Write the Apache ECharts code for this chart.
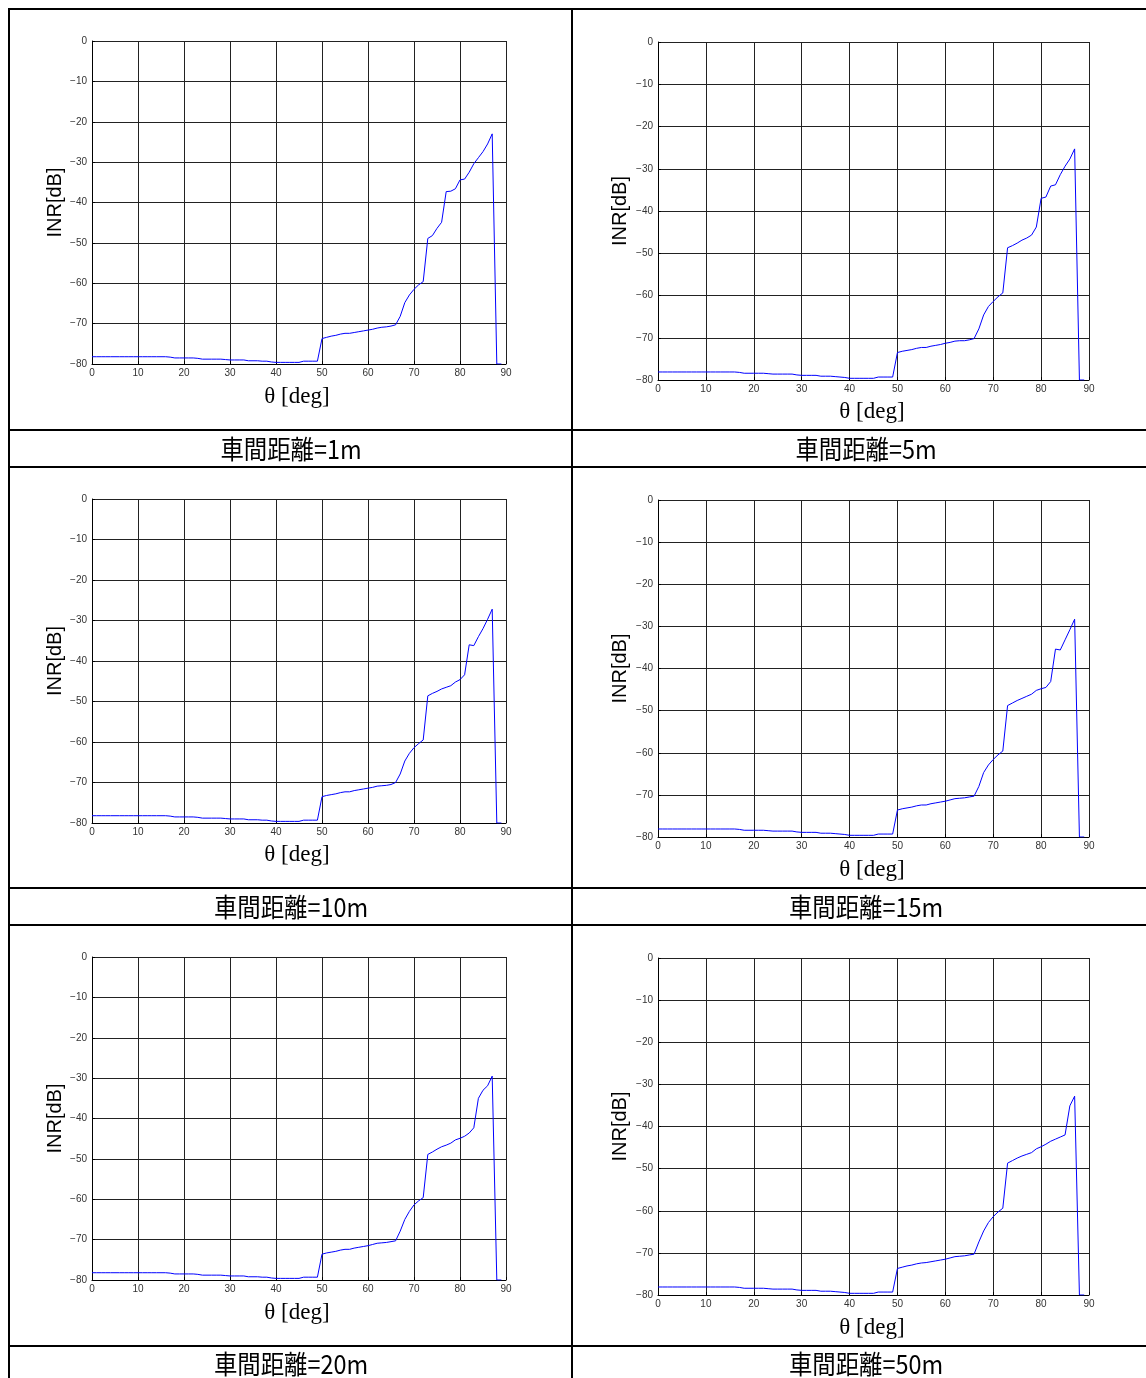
<!DOCTYPE html>
<html><head><meta charset="utf-8">
<script src="https://cdn.jsdelivr.net/npm/echarts@6/dist/echarts.min.js"></script>
<style>html,body{margin:0;padding:0;background:#fff}#c{width:1146px;height:1378px}</style>
</head><body><div id="c"></div>
<script>
// ---- data ----
const theta = [0,1,2,3,4,5,6,7,8,9,10,11,12,13,14,15,16,17,18,19,20,21,22,23,24,25,26,27,28,29,
30,31,32,33,34,35,36,37,38,39,40,41,42,43,44,45,46,47,48,49,50,51,52,53,54,55,56,57,58,59,
60,61,62,63,64,65,66,67,68,69,70,71,72,73,74,75,76,77,78,79,80,81,82,83,84,85,86,87,88,89];
const xTicks = [0,10,20,30,40,50,60,70,80,90];
const yTicks = [0,-10,-20,-30,-40,-50,-60,-70,-80];
const captions = ['車間距離=1m','車間距離=5m','車間距離=10m','車間距離=15m','車間距離=20m','車間距離=50m'];

const inr1m = [
-78.2,-78.2,-78.2,-78.2,-78.2,-78.2,-78.2,-78.2,-78.2,-78.2,
-78.2,-78.2,-78.2,-78.2,-78.2,-78.2,-78.2,-78.3,-78.5,-78.5,
-78.5,-78.5,-78.5,-78.6,-78.8,-78.8,-78.8,-78.8,-78.8,-78.9,
-79.0,-79.0,-79.0,-79.0,-79.2,-79.2,-79.2,-79.3,-79.3,-79.5,
-79.6,-79.6,-79.6,-79.6,-79.6,-79.6,-79.3,-79.3,-79.3,-79.3,
-73.7,-73.4,-73.1,-72.9,-72.6,-72.4,-72.4,-72.2,-72.0,-71.8,
-71.6,-71.4,-71.1,-70.9,-70.8,-70.6,-70.3,-68.2,-64.8,-62.9,
-61.5,-60.4,-59.6,-48.9,-48.2,-46.4,-44.9,-37.3,-37.2,-36.6,
-34.4,-34.2,-32.5,-30.4,-28.9,-27.4,-25.5,-23.0,-80,-80];
const inr5m = [
-78.1,-78.1,-78.1,-78.1,-78.1,-78.1,-78.1,-78.1,-78.1,-78.1,
-78.1,-78.1,-78.1,-78.1,-78.1,-78.1,-78.1,-78.2,-78.4,-78.4,
-78.4,-78.4,-78.4,-78.5,-78.6,-78.6,-78.6,-78.6,-78.6,-78.8,
-78.9,-78.9,-78.9,-78.9,-79.1,-79.1,-79.1,-79.2,-79.3,-79.4,
-79.6,-79.6,-79.6,-79.6,-79.6,-79.6,-79.3,-79.3,-79.3,-79.3,
-73.5,-73.2,-73.0,-72.8,-72.5,-72.3,-72.3,-72.0,-71.8,-71.6,
-71.3,-71.1,-70.8,-70.7,-70.7,-70.5,-70.2,-67.9,-64.6,-62.6,
-61.4,-60.3,-59.4,-48.7,-48.2,-47.6,-46.9,-46.4,-45.7,-43.8,
-37.0,-36.7,-34.1,-33.8,-31.4,-29.4,-27.7,-25.3,-80,-80];
const inr10m = [
-78.2,-78.2,-78.2,-78.2,-78.2,-78.2,-78.2,-78.2,-78.2,-78.2,
-78.2,-78.2,-78.2,-78.2,-78.2,-78.2,-78.2,-78.3,-78.5,-78.5,
-78.5,-78.5,-78.5,-78.6,-78.8,-78.8,-78.8,-78.8,-78.8,-78.9,
-79.0,-79.0,-79.0,-79.0,-79.2,-79.2,-79.2,-79.3,-79.3,-79.5,
-79.6,-79.6,-79.6,-79.6,-79.6,-79.6,-79.3,-79.3,-79.3,-79.3,
-73.5,-73.2,-73.0,-72.8,-72.5,-72.3,-72.3,-72.0,-71.8,-71.6,
-71.4,-71.2,-70.9,-70.8,-70.7,-70.5,-70.0,-67.9,-64.7,-62.8,
-61.4,-60.4,-59.5,-48.6,-48.0,-47.5,-46.9,-46.5,-46.1,-45.2,
-44.6,-43.4,-36.0,-36.2,-34.0,-32.0,-29.7,-27.2,-80,-80];
const inr15m = [
-78.1,-78.1,-78.1,-78.1,-78.1,-78.1,-78.1,-78.1,-78.1,-78.1,
-78.1,-78.1,-78.1,-78.1,-78.1,-78.1,-78.1,-78.2,-78.4,-78.4,
-78.4,-78.4,-78.4,-78.5,-78.6,-78.6,-78.6,-78.6,-78.6,-78.8,
-78.9,-78.9,-78.9,-78.9,-79.1,-79.1,-79.1,-79.2,-79.3,-79.4,
-79.6,-79.6,-79.6,-79.6,-79.6,-79.6,-79.3,-79.3,-79.3,-79.3,
-73.6,-73.3,-73.1,-72.9,-72.6,-72.4,-72.4,-72.1,-71.9,-71.7,
-71.5,-71.2,-70.9,-70.8,-70.7,-70.5,-70.3,-68.0,-64.7,-62.9,
-61.6,-60.5,-59.6,-48.8,-48.2,-47.6,-47.1,-46.6,-46.1,-45.2,
-44.8,-44.5,-43.1,-35.4,-35.6,-33.2,-30.8,-28.3,-80,-80];
const inr20m = [
-78.2,-78.2,-78.2,-78.2,-78.2,-78.2,-78.2,-78.2,-78.2,-78.2,
-78.2,-78.2,-78.2,-78.2,-78.2,-78.2,-78.2,-78.3,-78.5,-78.5,
-78.5,-78.5,-78.5,-78.6,-78.8,-78.8,-78.8,-78.8,-78.8,-78.9,
-79.0,-79.0,-79.0,-79.0,-79.2,-79.2,-79.2,-79.3,-79.3,-79.5,
-79.6,-79.6,-79.6,-79.6,-79.6,-79.6,-79.3,-79.3,-79.3,-79.3,
-73.6,-73.3,-73.1,-72.9,-72.6,-72.4,-72.4,-72.1,-71.9,-71.7,
-71.5,-71.2,-70.9,-70.8,-70.7,-70.5,-70.3,-67.9,-65.0,-63.0,
-61.4,-60.4,-59.6,-48.9,-48.3,-47.6,-47.0,-46.6,-46.1,-45.3,
-44.9,-44.4,-43.6,-42.3,-35.0,-33.0,-31.9,-29.5,-80,-80];
const inr50m = [
-78.1,-78.1,-78.1,-78.1,-78.1,-78.1,-78.1,-78.1,-78.1,-78.1,
-78.1,-78.1,-78.1,-78.1,-78.1,-78.1,-78.1,-78.2,-78.4,-78.4,
-78.4,-78.4,-78.4,-78.5,-78.6,-78.6,-78.6,-78.6,-78.6,-78.8,
-78.9,-78.9,-78.9,-78.9,-79.1,-79.1,-79.1,-79.2,-79.3,-79.4,
-79.6,-79.6,-79.6,-79.6,-79.6,-79.6,-79.3,-79.3,-79.3,-79.3,
-73.7,-73.4,-73.1,-72.9,-72.6,-72.4,-72.3,-72.1,-71.9,-71.7,
-71.5,-71.2,-70.9,-70.8,-70.7,-70.5,-70.3,-67.4,-64.8,-62.8,
-61.4,-60.3,-59.4,-48.7,-48.1,-47.5,-47.0,-46.6,-46.2,-45.3,
-44.8,-44.2,-43.5,-43.0,-42.5,-42.0,-35.1,-32.8,-80,-80];

const seriesValues = [inr1m, inr5m, inr10m, inr15m, inr20m, inr50m];

// ---- layout (pixels) ----
const layouts = [
  {left:92,  top:41,  width:414, height:323, cx:297, ty:397, yx:55,  cy:449},
  {left:658, top:42,  width:431, height:338, cx:872, ty:412, yx:620, cy:449},
  {left:92,  top:499, width:414, height:324, cx:297, ty:855, yx:55,  cy:907},
  {left:658, top:500, width:431, height:337, cx:872, ty:870, yx:620, cy:907},
  {left:92,  top:957, width:414, height:323, cx:297, ty:1313,yx:55,  cy:1364},
  {left:658, top:958, width:431, height:337, cx:872, ty:1328,yx:620, cy:1364}
];
const capX = [291, 866, 291, 866, 291, 866];

const grid = [], xAxis = [], yAxis = [], series = [], graphic = [];
const lbl = {fontFamily:'Liberation Sans, Arial, sans-serif', fontSize:10, color:'#333'};
layouts.forEach((L, i) => {
  grid.push({left:L.left, top:L.top, width:L.width, height:L.height, show:false});
  xAxis.push({type:'value', gridIndex:i, min:xTicks[0], max:xTicks[xTicks.length-1], interval:10,
    axisLine:{show:true, onZero:false, lineStyle:{color:'#000', width:1}},
    axisTick:{show:true, inside:true, length:3, lineStyle:{color:'#000'}},
    splitLine:{show:true, lineStyle:{color:'#222', width:1}},
    axisLabel:Object.assign({margin:4}, lbl)});
  yAxis.push({type:'value', gridIndex:i, min:yTicks[yTicks.length-1], max:yTicks[0], interval:10,
    axisLine:{show:true, onZero:false, lineStyle:{color:'#000', width:1}},
    axisTick:{show:true, inside:true, length:3, lineStyle:{color:'#000'}},
    splitLine:{show:true, lineStyle:{color:'#222', width:1}},
    axisLabel:Object.assign({margin:5, formatter:v => String(v).replace('-', '\u2212')}, lbl)});
  series.push({type:'line', xAxisIndex:i, yAxisIndex:i, showSymbol:false, symbol:'none',
    data: theta.map((t, k) => [t, seriesValues[i][k]]),
    lineStyle:{color:'#0000ff', width:1}, animation:false});
  graphic.push({type:'text', x:L.cx, y:L.ty, style:{text:'θ [deg]', font:'23px "Liberation Serif", "DejaVu Serif", serif', fill:'#000', align:'center', verticalAlign:'middle'}});
  graphic.push({type:'text', x:L.yx, y:L.top + L.height/2, rotation:Math.PI/2, style:{text:'INR[dB]', font:'20px "Liberation Sans", Arial, sans-serif', fill:'#000', align:'center', verticalAlign:'middle'}});
  graphic.push({type:'text', x:capX[i], y:L.cy, scaleX:0.9, style:{text:captions[i], font:'26px "Noto Sans CJK JP", sans-serif', fill:'#000', align:'center', verticalAlign:'middle'}});
});

// table borders
const hLines = [9, 430, 467, 888, 925, 1346];
hLines.forEach(y => graphic.push({type:'line', shape:{x1:8, y1:y, x2:1146, y2:y}, style:{stroke:'#000', lineWidth:2}}));
[9, 572].forEach(x => graphic.push({type:'line', shape:{x1:x, y1:8, x2:x, y2:1378}, style:{stroke:'#000', lineWidth:2}}));

const chart = echarts.init(document.getElementById('c'), null, {renderer:'canvas'});
chart.setOption({animation:false, backgroundColor:'#fff', grid, xAxis, yAxis, series, graphic});
</script></body></html>
